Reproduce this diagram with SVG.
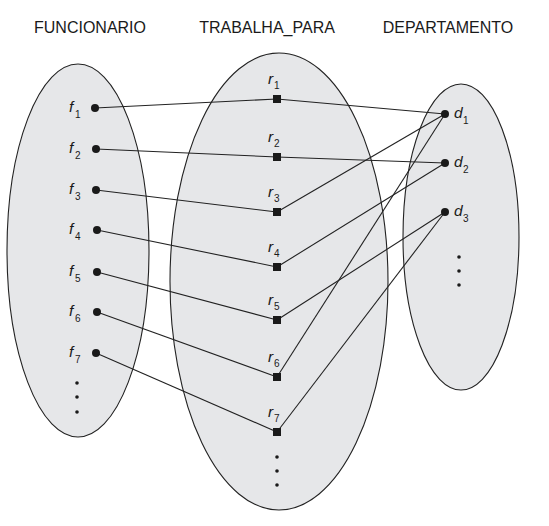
<svg xmlns="http://www.w3.org/2000/svg" width="549" height="526" viewBox="0 0 549 526">
<style>
.set{fill:#e6e7e9;stroke:#222;stroke-width:1.1}
.title{font-family:"Liberation Sans",Arial,sans-serif;font-size:16px;fill:#1a1a1a;text-anchor:middle}
.lbl{font-family:"Liberation Sans",Arial,sans-serif;font-size:15.5px;font-style:italic;fill:#1a1a1a}
.sub{font-family:"Liberation Sans",Arial,sans-serif;font-size:10px;fill:#1a1a1a}
.dot{fill:#1a1a1a}
.sq{fill:#1a1a1a}
.conn line{stroke:#222;stroke-width:1.1}
</style>
<rect width="549" height="526" fill="#fff"/>
<text class="title" x="90" y="33">FUNCIONARIO</text>
<text class="title" x="267" y="33">TRABALHA_PARA</text>
<text class="title" x="448" y="33">DEPARTAMENTO</text>
<g id="set-funcionario"><ellipse class="set" cx="78" cy="250.5" rx="71" ry="186.5"/></g>
<g id="set-trabalha"><ellipse class="set" cx="279" cy="281.5" rx="109" ry="228.5"/></g>
<g id="set-departamento"><ellipse class="set" cx="461" cy="237" rx="58" ry="153"/></g>
<g id="connectors" class="conn">
<line x1="95" y1="108" x2="277" y2="99"/>
<line x1="277" y1="99" x2="445" y2="114"/>
<line x1="96" y1="149" x2="277" y2="157"/>
<line x1="277" y1="157" x2="445" y2="163"/>
<line x1="96" y1="190" x2="277" y2="212"/>
<line x1="277" y1="212" x2="445" y2="114"/>
<line x1="97" y1="230" x2="277" y2="267"/>
<line x1="277" y1="267" x2="445" y2="163"/>
<line x1="97" y1="272" x2="277" y2="320"/>
<line x1="277" y1="320" x2="445" y2="212"/>
<line x1="97" y1="312" x2="277" y2="377"/>
<line x1="277" y1="377" x2="445" y2="114"/>
<line x1="96" y1="353" x2="277" y2="432"/>
<line x1="277" y1="432" x2="445" y2="212"/>
</g>
<g id="f1"><circle class="dot" cx="95" cy="108" r="4"/><text class="lbl" x="69" y="112">f</text><text class="sub" x="75" y="118">1</text></g>
<g id="f2"><circle class="dot" cx="96" cy="149" r="4"/><text class="lbl" x="69" y="153">f</text><text class="sub" x="75" y="159">2</text></g>
<g id="f3"><circle class="dot" cx="96" cy="190" r="4"/><text class="lbl" x="69" y="194">f</text><text class="sub" x="75" y="200">3</text></g>
<g id="f4"><circle class="dot" cx="97" cy="230" r="4"/><text class="lbl" x="69" y="234">f</text><text class="sub" x="75" y="240">4</text></g>
<g id="f5"><circle class="dot" cx="97" cy="272" r="4"/><text class="lbl" x="69" y="276">f</text><text class="sub" x="75" y="282">5</text></g>
<g id="f6"><circle class="dot" cx="97" cy="312" r="4"/><text class="lbl" x="69" y="316">f</text><text class="sub" x="75" y="322">6</text></g>
<g id="f7"><circle class="dot" cx="96" cy="353" r="4"/><text class="lbl" x="69" y="357">f</text><text class="sub" x="75" y="363">7</text></g>
<g id="f-more"><circle class="dot" cx="77" cy="383" r="1.8"/><circle class="dot" cx="77" cy="397" r="1.8"/><circle class="dot" cx="77" cy="412" r="1.8"/></g>
<g id="r1"><rect class="sq" x="273" y="95" width="8" height="8"/><text class="lbl" x="268" y="84">r</text><text class="sub" x="274" y="89">1</text></g>
<g id="r2"><rect class="sq" x="273" y="153" width="8" height="8"/><text class="lbl" x="268" y="142">r</text><text class="sub" x="274" y="147">2</text></g>
<g id="r3"><rect class="sq" x="273" y="208" width="8" height="8"/><text class="lbl" x="268" y="197">r</text><text class="sub" x="274" y="202">3</text></g>
<g id="r4"><rect class="sq" x="273" y="263" width="8" height="8"/><text class="lbl" x="268" y="252">r</text><text class="sub" x="274" y="257">4</text></g>
<g id="r5"><rect class="sq" x="273" y="316" width="8" height="8"/><text class="lbl" x="268" y="305">r</text><text class="sub" x="274" y="310">5</text></g>
<g id="r6"><rect class="sq" x="273" y="373" width="8" height="8"/><text class="lbl" x="268" y="362">r</text><text class="sub" x="274" y="367">6</text></g>
<g id="r7"><rect class="sq" x="273" y="428" width="8" height="8"/><text class="lbl" x="268" y="417">r</text><text class="sub" x="274" y="422">7</text></g>
<g id="r-more"><circle class="dot" cx="277" cy="457" r="1.8"/><circle class="dot" cx="277" cy="471" r="1.8"/><circle class="dot" cx="277" cy="485" r="1.8"/></g>
<g id="d1"><circle class="dot" cx="445" cy="114" r="4"/><text class="lbl" x="454" y="118">d</text><text class="sub" x="463" y="124">1</text></g>
<g id="d2"><circle class="dot" cx="445" cy="163" r="4"/><text class="lbl" x="454" y="167">d</text><text class="sub" x="463" y="173">2</text></g>
<g id="d3"><circle class="dot" cx="445" cy="212" r="4"/><text class="lbl" x="454" y="216">d</text><text class="sub" x="463" y="222">3</text></g>
<g id="d-more"><circle class="dot" cx="459" cy="257" r="1.8"/><circle class="dot" cx="459" cy="271" r="1.8"/><circle class="dot" cx="459" cy="285" r="1.8"/></g>
</svg>
